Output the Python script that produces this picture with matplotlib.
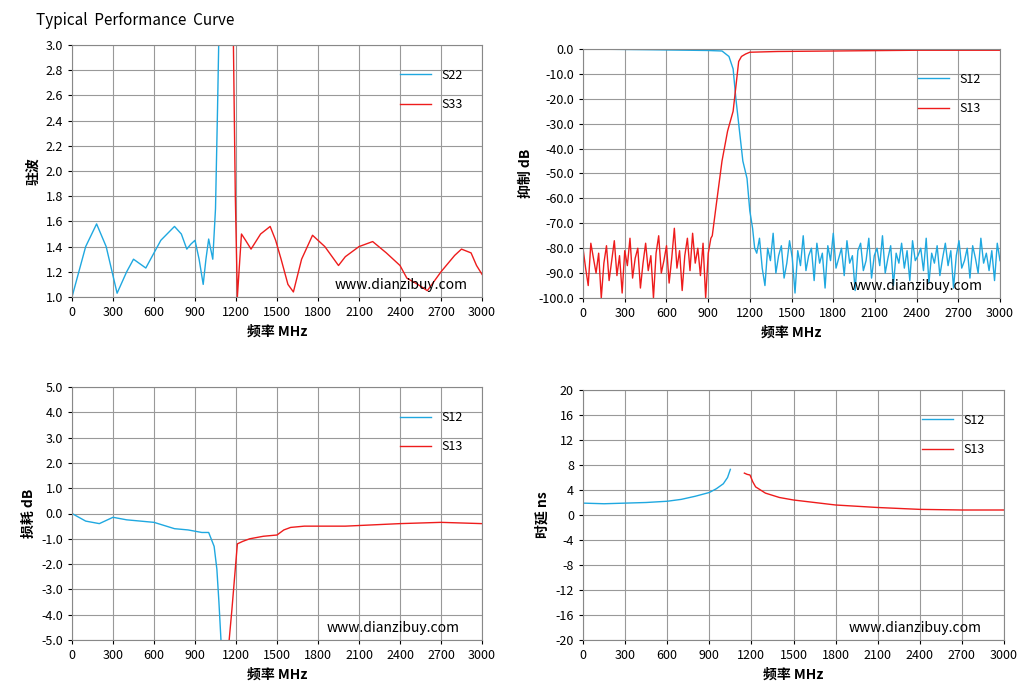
import numpy as np
import matplotlib.pyplot as plt

plt.rcParams['font.family'] = ['Noto Sans CJK SC', 'DejaVu Sans']
plt.rcParams['font.size'] = 9

BLUE = '#1fa8e0'
RED = '#ee1c1c'

# top-left VSWR
s22_f = [0, 30, 100, 180, 250, 330, 400, 450, 540, 650, 750, 800, 840, 870, 900, 930, 960, 980, 1000, 1030, 1050, 1065, 1075]
s22_v = [1.0, 1.12, 1.4, 1.58, 1.4, 1.03, 1.2, 1.3, 1.23, 1.45, 1.56, 1.5, 1.38, 1.42, 1.45, 1.3, 1.1, 1.3, 1.46, 1.3, 1.7, 2.5, 3.1]
s33_f = [1180, 1195, 1210, 1240, 1270, 1310, 1380, 1450, 1490, 1530, 1580, 1620, 1680, 1760, 1850, 1950, 2000, 2100, 2200, 2300, 2400, 2450, 2530, 2600, 2700, 2800, 2850, 2920, 2960, 3000]
s33_v = [3.1, 1.8, 1.0, 1.5, 1.45, 1.38, 1.5, 1.56, 1.45, 1.3, 1.1, 1.04, 1.3, 1.49, 1.4, 1.25, 1.32, 1.4, 1.44, 1.35, 1.25, 1.15, 1.1, 1.05, 1.2, 1.33, 1.38, 1.35, 1.25, 1.18]

# top-right rejection
s12r_f = [0, 500, 900, 1000, 1050, 1080, 1100, 1130, 1150, 1180, 1200, 1220, 1235]
s12r_v = [0, -0.3, -0.6, -0.8, -3, -8, -20, -35, -45, -52, -65, -72, -80]
s12r_noise = [-82, -76, -88, -95, -80, -85, -74, -90, -83, -79, -92, -86, -77, -84, -98, -81, -87, -75, -89, -83,
              -80, -93, -78, -86, -82, -96, -79, -85, -74, -88, -84, -80, -91, -77, -86, -83, -97, -81, -78, -89,
              -85, -76, -92, -83, -80, -87, -75, -90, -84, -79, -95, -82, -86, -78, -88, -81, -93, -77, -85, -83,
              -80, -89, -76, -94, -82, -86, -79, -91, -84, -78, -87, -81, -96, -83, -77, -88, -85, -80, -92, -79,
              -84, -90, -76, -86, -82, -89, -81, -93, -78, -85]
s13r_noise = [-80, -88, -95, -78, -84, -90, -82, -100, -86, -79, -93, -85, -77, -91, -83, -98, -81, -87, -76, -92,
              -84, -80, -96, -86, -78, -89, -83, -100, -82, -75, -90, -85, -79, -94, -84, -72, -88, -81, -97, -83,
              -76, -89, -74, -86, -80, -91, -78, -100, -82, -76]
s13r_f = [930, 960, 1000, 1040, 1080, 1100, 1120, 1140, 1170, 1200, 1400, 1800, 2400, 3000]
s13r_v = [-75, -62, -45, -33, -25, -15, -5, -3, -2, -1.3, -1, -0.8, -0.5, -0.5]

# bottom-left insertion loss
s12l_f = [0, 100, 200, 300, 400, 500, 600, 750, 850, 950, 1000, 1040, 1060, 1075, 1090]
s12l_v = [0, -0.3, -0.4, -0.15, -0.25, -0.3, -0.35, -0.6, -0.65, -0.75, -0.75, -1.3, -2.2, -3.5, -5]
s13l_f = [1150, 1170, 1190, 1210, 1250, 1300, 1350, 1400, 1500, 1550, 1600, 1700, 1800, 2000, 2200, 2400, 2700, 3000]
s13l_v = [-5, -3.8, -2.5, -1.2, -1.1, -1.0, -0.95, -0.9, -0.85, -0.65, -0.55, -0.5, -0.5, -0.5, -0.45, -0.4, -0.35, -0.4]

# bottom-right group delay
s12d_f = [0, 150, 300, 450, 600, 700, 800, 900, 950, 1000, 1030, 1050]
s12d_v = [1.9, 1.8, 1.9, 2.0, 2.2, 2.5, 3.0, 3.6, 4.2, 5.0, 6.0, 7.3]
s13d_f = [1150, 1170, 1190, 1210, 1230, 1300, 1400, 1500, 1650, 1800, 2100, 2400, 2700, 3000]
s13d_v = [6.7, 6.5, 6.4, 5.3, 4.5, 3.5, 2.8, 2.4, 2.0, 1.6, 1.2, 0.9, 0.8, 0.8]

xt = np.arange(0, 3001, 300)

fig = plt.figure(figsize=(10.26, 6.95), dpi=100)
fig.text(0.035, 0.97, 'Typical  Performance  Curve', fontsize=11, va='center')


def setup(ax, ylim, yt, ylab, fmt):
    ax.set_xlim(0, 3000)
    ax.set_ylim(*ylim)
    ax.set_xticks(xt)
    ax.set_yticks(yt)
    ax.set_yticklabels([fmt.format(v) for v in yt])
    ax.grid(True, color='#999999', lw=0.8)
    ax.tick_params(length=3)
    ax.set_xlabel('频率 MHz', fontweight='bold', fontsize=10)
    ax.set_ylabel(ylab, fontweight='bold', fontsize=10)
    for s in ax.spines.values():
        s.set_color('#888888')
    ax.legend(loc='upper right', bbox_to_anchor=(0.98, 0.95), frameon=False, fontsize=9,
              handlelength=2.5, labelspacing=1.3)


ax1 = fig.add_axes([72 / 1026, 1 - 297 / 695, 410 / 1026, 252 / 695])
ax1.plot(s22_f, s22_v, color=BLUE, lw=1, label='S22')
ax1.plot(s33_f, s33_v, color=RED, lw=1, label='S33')
setup(ax1, (1.0, 3.0), np.arange(1.0, 3.01, 0.2), '驻波', '{:.1f}')
ax1.text(0.64, 0.02, 'www.dianzibuy.com', transform=ax1.transAxes, fontsize=10, va='bottom')

ax2 = fig.add_axes([583 / 1026, 1 - 298 / 695, 417 / 1026, 249 / 695])
bf = list(s12r_f) + list(np.linspace(1250, 3000, len(s12r_noise)))
bv = list(s12r_v) + s12r_noise
rf = list(np.linspace(0, 920, len(s13r_noise))) + list(s13r_f)
rv = s13r_noise + list(s13r_v)
ax2.plot(bf, bv, color=BLUE, lw=1, label='S12')
ax2.plot(rf, rv, color=RED, lw=1, label='S13')
setup(ax2, (-100, 0), np.arange(-100, 1, 10), '抑制 dB', '{:.1f}')
ax2.text(0.64, 0.02, 'www.dianzibuy.com', transform=ax2.transAxes, fontsize=10, va='bottom')

ax3 = fig.add_axes([72 / 1026, 1 - 640 / 695, 410 / 1026, 253 / 695])
ax3.plot(s12l_f, s12l_v, color=BLUE, lw=1, label='S12')
ax3.plot(s13l_f, s13l_v, color=RED, lw=1, label='S13')
setup(ax3, (-5, 5), np.arange(-5, 5.01, 1), '损耗 dB', '{:.1f}')
ax3.text(0.62, 0.02, 'www.dianzibuy.com', transform=ax3.transAxes, fontsize=10, va='bottom')

ax4 = fig.add_axes([583 / 1026, 1 - 640 / 695, 421 / 1026, 250 / 695])
ax4.plot(s12d_f, s12d_v, color=BLUE, lw=1, label='S12')
ax4.plot(s13d_f, s13d_v, color=RED, lw=1, label='S13')
setup(ax4, (-20, 20), np.arange(-20, 21, 4), '时延 ns', '{:.0f}')
ax4.text(0.63, 0.02, 'www.dianzibuy.com', transform=ax4.transAxes, fontsize=10, va='bottom')

fig.savefig('out.png', dpi=100)
